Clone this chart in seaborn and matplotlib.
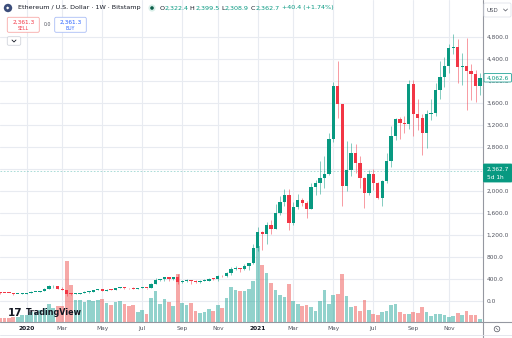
import numpy as np
import pandas as pd
import matplotlib
matplotlib.use("Agg")
import matplotlib.pyplot as plt
import matplotlib.dates as mdates
from matplotlib.patches import FancyBboxPatch, Circle
from matplotlib.lines import Line2D
from matplotlib.transforms import IdentityTransform
import seaborn as sns

# weekly ETH/USD candles (Bitstamp)
weeks = pd.date_range("2019-11-25", periods=109, freq="7D")

open_ = [151, 150, 148, 141, 132, 134, 136, 146, 168, 169,
         189, 223, 265, 273, 218, 200, 124, 123, 131, 143,
         158, 171, 197, 211, 188, 207, 201, 243, 246, 234,
         229, 225, 239, 241, 235, 310, 387, 395, 434, 394,
         428, 353, 366, 384, 355, 346, 367, 369, 407, 396,
         455, 447, 510, 575, 597, 585, 640, 685, 969, 1249,
         1226, 1382, 1310, 1605, 1795, 1927, 1412, 1715, 1836, 1788,
         1679, 2067, 2140, 2242, 2309, 2940, 3915, 3582, 2096, 2382,
         2697, 2503, 2242, 1970, 2309, 2140, 1879, 2182, 2545, 3000,
         3303, 3242, 3218, 3939, 3394, 3321, 3060, 3400, 3424, 3830,
         4073, 4273, 4594, 4624, 4260, 4279, 4187, 4127, 3915]

high = [158, 152, 151, 145, 136, 145, 148, 180, 171, 190,
        228, 288, 287, 276, 251, 202, 150, 146, 150, 175,
        188, 198, 227, 216, 215, 215, 245, 253, 250, 240,
        248, 238, 247, 245, 320, 418, 400, 445, 440, 438,
        488, 390, 395, 388, 378, 380, 395, 420, 418, 470,
        475, 520, 623, 630, 600, 680, 690, 1040, 1350, 1280,
        1440, 1470, 1758, 1909, 2030, 2040, 1806, 1945, 1880, 1810,
        2139, 2200, 2545, 2636, 3049, 3976, 4364, 3590, 2909, 2867,
        2848, 2636, 2260, 2382, 2400, 2160, 2200, 2685, 3182, 3330,
        3339, 3364, 4020, 4020, 3667, 3400, 3473, 3667, 3970, 4370,
        4442, 4670, 4855, 4760, 4503, 4776, 4303, 4200, 4151]

low = [131, 144, 139, 116, 122, 125, 135, 143, 156, 160,
       187, 220, 240, 210, 197, 90, 105, 122, 124, 140,
       150, 168, 195, 179, 180, 194, 199, 231, 215, 222,
       216, 222, 234, 226, 234, 300, 370, 360, 370, 375,
       309, 330, 350, 310, 332, 335, 360, 363, 373, 370,
       440, 443, 480, 556, 530, 570, 555, 680, 900, 927,
       1040, 1218, 1300, 1560, 1730, 1290, 1382, 1673, 1730, 1515,
       1670, 1930, 1945, 2048, 2300, 2900, 3333, 1733, 2000, 2273,
       2330, 2048, 1697, 1930, 2018, 1849, 1727, 2150, 2442, 2927,
       2940, 3060, 3121, 3000, 3109, 2655, 2776, 3300, 3364, 3667,
       3900, 4150, 4500, 3960, 3927, 3473, 3655, 3624, 3745]

close = [150, 148, 141, 132, 134, 136, 146, 168, 169, 189,
         223, 265, 273, 218, 200, 124, 123, 131, 143, 158,
         171, 197, 211, 188, 207, 201, 243, 246, 234, 229,
         225, 239, 241, 235, 310, 387, 395, 434, 394, 428,
         353, 366, 384, 355, 346, 367, 369, 407, 396, 455,
         447, 510, 575, 597, 585, 640, 685, 969, 1249, 1226,
         1382, 1310, 1605, 1795, 1927, 1412, 1715, 1836, 1788, 1679,
         2067, 2140, 2242, 2309, 2940, 3915, 3582, 2096, 2382, 2697,
         2503, 2242, 1970, 2309, 2140, 1879, 2182, 2545, 3000, 3303,
         3242, 3218, 3939, 3394, 3321, 3060, 3400, 3424, 3830, 4073,
         4273, 4594, 4624, 4260, 4279, 4187, 4127, 3915, 4062.6]

# volume, relative units (no scale shown on the chart)
volume = [4.3, 4.3, 4.3, 5.3, 4.7, 7, 7, 10, 10, 12,
          13.7, 18, 13.7, 16, 16, 61, 37, 22, 22, 20,
          22, 21, 22, 23, 19, 17, 20, 21, 18, 16,
          17, 10, 12, 8, 24, 31, 18, 23, 20, 16,
          48, 19, 17, 19, 11, 9.3, 10.3, 13, 11.3, 17,
          13.7, 23.7, 35.3, 32, 31.5, 31, 32.7, 41, 76, 56.7,
          49.3, 38.7, 31.7, 27, 25, 38.3, 21, 18.3, 15.7, 16.7,
          15, 10.7, 21, 31.7, 17.7, 27.3, 28.3, 47.7, 25.7, 14.7,
          15.7, 11, 21.7, 11.7, 7.7, 6.7, 10.5, 11, 17, 18,
          9.7, 8, 8, 10.3, 8.7, 14.7, 9.7, 6, 8, 8,
          6.7, 5.3, 6, 8.7, 7, 11.3, 7, 7, 3]

price_ticks = list(range(0, 4801, 400))
month_ticks = ["2020-01-06", "2020-03-02", "2020-05-04", "2020-07-06", "2020-09-07", "2020-11-02",
               "2021-01-04", "2021-03-01", "2021-05-03", "2021-07-05", "2021-09-06", "2021-11-01"]
month_labels = ["2020", "Mar", "May", "Jul", "Sep", "Nov", "2021", "Mar", "May", "Jul", "Sep", "Nov"]

last_price = 2362.7
last_close = 4062.6

df = pd.DataFrame({"date": weeks, "open": open_, "high": high, "low": low,
                   "close": close, "volume": volume})
df["up"] = df["close"] >= df["open"]

sns.set_theme(style="white")
plt.rcParams["font.family"] = ["DejaVu Sans"]

UP, DOWN = "#089981", "#f23645"
VUP, VDOWN = "#26a69a", "#ef5350"
TXT = "#131722"
AXT = "#50535e"

W, H = 512, 338
fig = plt.figure(figsize=(W / 100, H / 100), dpi=100)
ax = fig.add_axes([0, (H - 322) / H, 483 / W, 322 / H])

y_lo, y_hi = -382, 5473
ax.set_ylim(y_lo, y_hi)
t0 = mdates.date2num(pd.Timestamp("2020-01-01"))
ax.set_xlim(t0 - 37.0, t0 + 723.8)

x = mdates.date2num(df["date"])
cols = np.where(df["up"], UP, DOWN)
vcols = np.where(df["up"], VUP, VDOWN)

# volume pane at the bottom
vol_scale = (y_hi - y_lo) * 0.236 / df["volume"].max()
ax.bar(x, df["volume"] * vol_scale, bottom=y_lo, width=5.8, color=vcols,
       alpha=0.5, linewidth=0, zorder=1)

# candles
ax.vlines(x, df["low"], df["high"], colors=cols, linewidth=0.7, alpha=0.5, zorder=2)
body_lo = np.minimum(df["open"], df["close"])
body_h = np.maximum(np.abs(df["close"] - df["open"]), 16)
ax.bar(x, body_h, bottom=body_lo, width=5.2, color=cols, linewidth=0, zorder=3)

ax.axhline(last_price, color=VUP, lw=0.6, ls=(0, (2, 2)), alpha=0.45, zorder=2)

# axes / grid
ax.set_yticks(price_ticks)
ax.set_yticklabels([f"{v:,.1f}" for v in price_ticks])
ax.yaxis.tick_right()
ax.set_xticks(mdates.date2num(pd.to_datetime(month_ticks)))
ax.set_xticklabels(month_labels)
ax.grid(True, color="#e8ebf1", lw=0.8)
ax.set_axisbelow(True)
ax.tick_params(axis="y", length=0, pad=2.7, labelsize=4.2, labelcolor=AXT)
ax.tick_params(axis="x", length=0, pad=3, labelsize=4.2, labelcolor=AXT)
for lab in ax.get_xticklabels():
    if lab.get_text().startswith("20"):
        lab.set_fontweight("bold")
        lab.set_color(TXT)
for s in ax.spines.values():
    s.set_visible(False)

ID = IdentityTransform()


def P(px, py):
    return px, H - py


def ftext(px, py, s, **kw):
    kw.setdefault("transform", ID)
    kw.setdefault("va", "center")
    return fig.text(*P(px, py), s, **kw)


def fbox(x0, y0, x1, y1, ec, fc="white", lw=0.6, r=1.5):
    b = FancyBboxPatch((x0, H - y1), x1 - x0, y1 - y0, boxstyle=f"round,pad=0,rounding_size={r}",
                       transform=ID, ec=ec, fc=fc, lw=lw, zorder=5)
    fig.add_artist(b)


def fline(xs, ys, **kw):
    fig.add_artist(Line2D(xs, [H - v for v in ys], transform=ID, **kw))


# pane separators
fline([483, 483], [0, 338], color="#9598a1", lw=0.8)
fline([0, 512], [322, 322], color="#9598a1", lw=0.8)
fline([0, 512], [335, 335], color="#e0e3eb", lw=0.6)

# header
fig.add_artist(Circle(P(8, 8), 4.2, transform=ID, fc="#3b4d7a", ec="none"))
ftext(8, 8, "◆", color="white", fontsize=3.2, ha="center")
ftext(17.5, 8, "Ethereum / U.S. Dollar · 1W · Bitstamp", color=TXT, fontsize=4.6)
fig.add_artist(Circle(P(152, 8), 3.6, transform=ID, fc="#d9efe9", ec="none"))
fig.add_artist(Circle(P(152, 8), 1.8, transform=ID, fc="#0b5e48", ec="none"))

fig.canvas.draw()
rend = fig.canvas.get_renderer()
cx = 159.5
for s, c in [("O", TXT), ("2,322.4", UP), (" H", TXT), ("2,399.5", UP), (" L", TXT),
             ("2,308.9", UP), (" C", TXT), ("2,362.7", UP), (" +40.4 (+1.74%)", UP)]:
    t = ftext(cx, 8, s, color=c, fontsize=4.6)
    cx += t.get_window_extent(rend).width

# sell / buy boxes
fbox(7.3, 17.3, 39.3, 32.3, ec="#f7a9a7")
ftext(23.3, 22.3, "2,361.3", color=DOWN, fontsize=4.2, ha="center", zorder=6)
ftext(23.3, 28.3, "SELL", color=DOWN, fontsize=3.3, ha="center", zorder=6)
ftext(47, 25, "0.0", color=AXT, fontsize=3.4, ha="center")
fbox(54.7, 17.3, 86.3, 32.3, ec="#a9bdf6")
ftext(70.5, 22.3, "2,361.3", color="#2962ff", fontsize=4.2, ha="center", zorder=6)
ftext(70.5, 28.3, "BUY", color="#2962ff", fontsize=3.3, ha="center", zorder=6)
fbox(7.3, 36.7, 20.7, 45.3, ec="#d1d4dc")
fline([12, 14, 16], [40, 42, 40], color=TXT, lw=0.6, zorder=6)

# price scale extras
fbox(484, 3, 511, 17, ec="#e0e3eb")
ftext(486.5, 10, "USD", color=AXT, fontsize=4, zorder=6)
fline([503.5, 505.5, 507.5], [9, 11, 9], color=AXT, lw=0.5, zorder=6)
fbox(484, 73.5, 511.5, 82, ec=VUP, r=1)
ftext(486.7, 77.8, f"{last_close:,.1f}", color=UP, fontsize=4.2, zorder=6)
fbox(483.5, 164, 512, 182, ec=UP, fc=UP, r=1)
ftext(486.7, 169.5, f"{last_price:,.1f}", color="white", fontsize=4.2, zorder=6)
ftext(486.7, 177.5, "5d 1h", color="white", fontsize=4.2, zorder=6)
fig.add_artist(Circle(P(497, 329), 2.8, transform=ID, fc="none", ec=AXT, lw=0.5))
fline([495.8, 498.2], [327.8, 330.2], color=AXT, lw=0.4)

# TradingView watermark
ftext(7.5, 312.5, "17", color=TXT, fontsize=7.5, fontweight="heavy")
ftext(25.5, 312.7, "TradingView", color=TXT, fontsize=5.8, fontweight="bold")

fig.savefig("out.png", dpi=100)
